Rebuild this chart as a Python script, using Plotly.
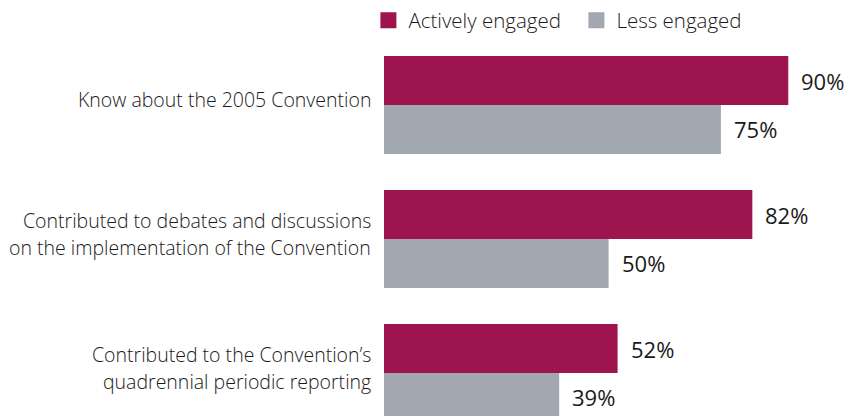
import plotly.graph_objects as go

categories = [
    "Know about the 2005 Convention",
    "Contributed to debates and discussions<br>on the implementation of the Convention",
    "Contributed to the Convention’s<br>quadrennial periodic reporting",
]
actively_engaged = [90, 82, 52]
less_engaged = [75, 50, 39]
series_names = ["Actively engaged", "Less engaged"]

MAGENTA = "#9E144E"
GREY = "#A2A8AF"
FONT = "Open Sans"
TEXT = "#1a1a1a"
BARGAP = 0.27
LABEL_SIZE = 19.5
LINE_GAP = 27.3

positions = list(range(len(categories)))

fig = go.Figure()
for vals, name, color in ((actively_engaged, series_names[0], MAGENTA),
                          (less_engaged, series_names[1], GREY)):
    fig.add_trace(go.Bar(y=positions, x=vals, orientation="h", name=name,
                         showlegend=False, marker=dict(color=color, line=dict(width=0))))
# legend-only entries (on hidden overlay axes) so the legend squares can be larger
for name, color in ((series_names[0], MAGENTA), (series_names[1], GREY)):
    fig.add_trace(go.Bar(x=[None], y=[None], orientation="h", name=name,
                         xaxis="x2", yaxis="y2", hoverinfo="skip",
                         marker=dict(color=color, line=dict(color=color, width=4))))

annotations = []
# value labels at the bar ends
half = (1 - BARGAP) / 4
for i, (a, l) in enumerate(zip(actively_engaged, less_engaged)):
    for val, off in ((a, -half), (l, half)):
        annotations.append(dict(
            x=val, y=i + off, xref="x", yref="y", text=f"{val}%",
            showarrow=False, xanchor="left", yanchor="middle", xshift=11,
            font=dict(family=FONT, size=22, color=TEXT, weight=500),
        ))
# category labels (one text per line, to get the wider line spacing)
for i, label in enumerate(categories):
    lines = label.split("<br>")
    n = len(lines)
    for k, line in enumerate(lines):
        baseline_off = 1.5 + (k - (n - 1) / 2) * LINE_GAP
        annotations.append(dict(
            x=0, xref="paper", y=i, yref="y", text=line,
            showarrow=False, xanchor="right", yanchor="middle",
            xshift=-11, yshift=-(baseline_off - 0.35 * LABEL_SIZE),
            font=dict(family=FONT, size=LABEL_SIZE, color=TEXT, weight=300),
        ))

fig.update_layout(
    width=857, height=416,
    margin=dict(l=384, r=0, t=38, b=0, autoexpand=False),
    paper_bgcolor="white", plot_bgcolor="white",
    barmode="group", bargap=BARGAP, bargroupgap=0,
    font=dict(family=FONT, size=LABEL_SIZE, color=TEXT, weight=300),
    showlegend=True,
    legend=dict(orientation="h", x=-0.033, xanchor="left", y=1 - 2.5 / 378, yanchor="bottom",
                font=dict(family=FONT, size=20.5, color=TEXT, weight=300),
                bgcolor="rgba(0,0,0,0)",
                traceorder="normal", itemclick=False, entrywidth=163),
    annotations=annotations,
    xaxis=dict(range=[0, 105.3], visible=False, fixedrange=True),
    xaxis2=dict(overlaying="x", visible=False, range=[0, 1]),
    yaxis2=dict(overlaying="y", visible=False, range=[0, 1]),
    yaxis=dict(range=[2.321, -0.5], tickvals=positions, showticklabels=False,
               showgrid=False, zeroline=False, showline=False, ticks="",
               automargin=False, fixedrange=True),
)

# remove the default 8px page margin so the 857x416 figure fills the window exactly
fig.write_html("out.html",
               config={"displayModeBar": False, "staticPlot": True},
               post_script="document.body.style.margin='0';document.body.style.padding='0';")
